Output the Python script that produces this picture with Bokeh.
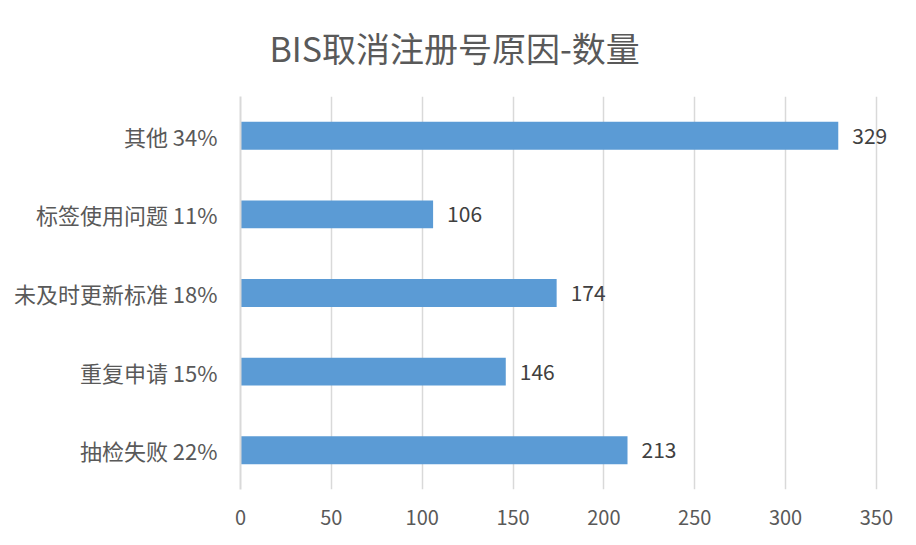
from bokeh.plotting import figure
from bokeh.models import ColumnDataSource, FixedTicker, Range1d
from bokeh.embed import file_html
from bokeh.resources import INLINE
from bokeh.core.properties import value

categories = ["抽检失败 22%", "重复申请 15%", "未及时更新标准 18%", "标签使用问题 11%", "其他 34%"]
counts = [213, 146, 174, 106, 329]
x_ticks = [0, 50, 100, 150, 200, 250, 300, 350]
title_text = "BIS取消注册号原因-数量"

FONT = "Noto Sans CJK SC"

src = ColumnDataSource(dict(cat=categories, v=counts, lbl=[str(c) for c in counts]))

p = figure(width=916, height=545, y_range=categories, x_range=Range1d(0, 366),
           output_backend="svg", toolbar_location=None,
           min_border_left=240, min_border_right=11, min_border_top=95, min_border_bottom=56)
p.outline_line_color = None
p.background_fill_color = "white"
p.border_fill_color = "white"

p.title.text = title_text
p.title.align = "left"
p.title.offset = 29
p.title.standoff = 45
p.title.vertical_align = "top"
p.title.text_font = FONT
p.title.text_font_size = "34px"
p.title.text_font_style = "normal"
p.title.text_color = "#595959"

p.hbar(y="cat", right="v", left=0, height=0.355, source=src,
       fill_color="#5B9BD5", line_color=None)

p.text(x="v", y="cat", text="lbl", source=src, x_offset=14,
       text_baseline="middle", text_align="left",
       text_font=value(FONT), text_font_size="21px", text_color="#404040")

p.xgrid.ticker = FixedTicker(ticks=x_ticks)
p.xaxis.ticker = FixedTicker(ticks=x_ticks)
p.xgrid.grid_line_color = "#D9D9D9"
p.xgrid.grid_line_width = 1.5
p.ygrid.grid_line_color = None

p.xaxis.axis_line_color = None
p.xaxis.major_tick_line_color = None
p.xaxis.minor_tick_line_color = None
p.xaxis.major_label_text_font = FONT
p.xaxis.major_label_text_font_size = "20px"
p.xaxis.major_label_text_color = "#595959"
p.xaxis.major_label_standoff = 14

p.yaxis.axis_line_color = "#D9D9D9"
p.yaxis.axis_line_width = 2
p.yaxis.major_tick_line_color = None
p.yaxis.minor_tick_line_color = None
p.yaxis.major_label_text_font = FONT
p.yaxis.major_label_text_font_size = "22px"
p.yaxis.major_label_text_color = "#595959"
p.yaxis.major_label_standoff = 17

open("out.html", "w").write(file_html(p, INLINE))
